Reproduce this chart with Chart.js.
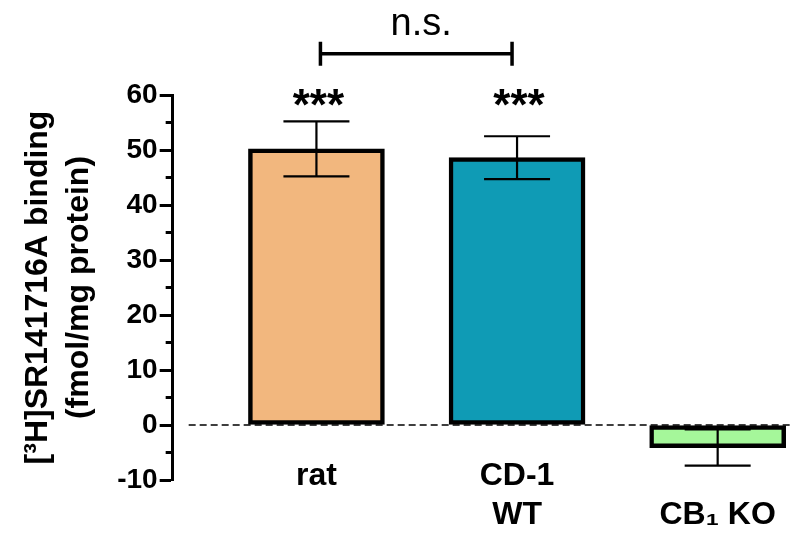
<!DOCTYPE html>
<html>
<head>
<meta charset="utf-8">
<script src="https://cdn.jsdelivr.net/npm/chart.js@4.4.1/dist/chart.umd.min.js"></script>
<style>
  html, body { margin: 0; padding: 0; background: #fff; }
  #wrap { width: 800px; height: 548px; }
</style>
</head>
<body>
<div id="wrap"><canvas id="c" width="800" height="548"></canvas></div>
<script>
// ---- data ----
const categories = [["rat"], ["CD-1", "WT"], ["", "CB\u2081 KO"]];
const means = [50.2, 48.6, -4.1];
const sems = [5.0, 3.9, 3.3];
const barColors = ["#F2B77E", "#0F9BB5", "#A5F79A"];
const starLabels = ["***", "***", ""];
const sigPair = [0, 1];
const sigText = "n.s.";
const yTicks = [-10, 0, 10, 20, 30, 40, 50, 60];

const FONT = "'Liberation Sans', Arial, Helvetica, sans-serif";

const points = means.map((v, i) => ({ x: i, y: v }));

const overlay = {
  id: 'overlay',
  beforeDatasetsDraw(chart) {
    const { ctx, scales: { x, y } } = chart;
    ctx.save();
    ctx.strokeStyle = '#000';
    ctx.lineWidth = 1.5;
    ctx.setLineDash([7, 4]);
    const y0 = y.getPixelForValue(0);
    ctx.beginPath();
    ctx.moveTo(x.left + 16, y0);
    ctx.lineTo(x.getPixelForValue(2) + 73, y0);
    ctx.stroke();
    ctx.restore();
  },
  afterDatasetsDraw(chart) {
    const { ctx, scales: { x, y } } = chart;
    ctx.save();
    ctx.strokeStyle = '#000';
    ctx.lineWidth = 2.2;
    means.forEach((m, i) => {
      const cx = x.getPixelForValue(i);
      const yt = y.getPixelForValue(m + sems[i]);
      const yb = y.getPixelForValue(m - sems[i]);
      ctx.beginPath();
      ctx.moveTo(cx, yt); ctx.lineTo(cx, yb);
      ctx.moveTo(cx - 33, yt); ctx.lineTo(cx + 33, yt);
      ctx.moveTo(cx - 33, yb); ctx.lineTo(cx + 33, yb);
      ctx.stroke();
    });
    ctx.fillStyle = '#000';
    ctx.font = "bold 44px " + FONT;
    ctx.textAlign = 'center';
    ctx.textBaseline = 'middle';
    starLabels.forEach((s, i) => {
      if (!s) return;
      ctx.fillText(s, x.getPixelForValue(i) + 2, y.getPixelForValue(60.8) + 17);
    });
    const xa = x.getPixelForValue(sigPair[0]) + 4;
    const xb = x.getPixelForValue(sigPair[1]) - 5;
    const yb = y.getPixelForValue(67.5);
    ctx.lineWidth = 3.5;
    ctx.beginPath();
    ctx.moveTo(xa, yb); ctx.lineTo(xb, yb);
    ctx.moveTo(xa, yb - 12); ctx.lineTo(xa, yb + 12);
    ctx.moveTo(xb, yb - 12); ctx.lineTo(xb, yb + 12);
    ctx.stroke();
    ctx.font = "38px " + FONT;
    ctx.textBaseline = 'alphabetic';
    ctx.fillText(sigText, (xa + xb) / 2 + 5, yb - 19);
    ctx.lineWidth = 3;
    for (let v = -5; v < 60; v += 10) {
      const py = y.getPixelForValue(v);
      ctx.beginPath();
      ctx.moveTo(x.left - 7, py); ctx.lineTo(x.left, py);
      ctx.stroke();
    }
    ctx.restore();
  }
};

new Chart(document.getElementById('c'), {
  type: 'bar',
  data: {
    datasets: [{
      data: points,
      backgroundColor: barColors,
      borderColor: '#000',
      borderWidth: 4.5,
      borderSkipped: false,
      barThickness: 136
    }]
  },
  options: {
    responsive: false,
    animation: false,
    devicePixelRatio: 1,
    layout: { padding: { top: 95, bottom: 68, right: 10, left: 17 } },
    plugins: { legend: { display: false }, tooltip: { enabled: false } },
    scales: {
      x: {
        type: 'linear',
        offset: false,
        position: { y: 0 },
        min: -0.7166,
        max: 2.356,
        afterBuildTicks(scale) { scale.ticks = categories.map((c, i) => ({ value: i })); },
        grid: { display: false, offset: false },
        border: { display: false },
        ticks: {
          callback: (v) => categories[v] || '',
          font: { family: FONT, size: 32, weight: 'bold', lineHeight: 1.23 },
          color: '#000',
          padding: 23,
          maxRotation: 0,
          autoSkip: false
        }
      },
      y: {
        min: -10,
        max: 60,
        afterBuildTicks(scale) { scale.ticks = yTicks.map(v => ({ value: v })); },
        grid: {
          drawOnChartArea: false,
          tickLength: 13,
          tickWidth: 3,
          tickColor: '#000'
        },
        border: { display: true, color: '#000', width: 3 },
        ticks: {
          font: { family: FONT, size: 28, weight: 'bold' },
          color: '#000',
          padding: 2
        },
        title: {
          display: true,
          text: ['[\u00B3H]SR141716A binding', '(fmol/mg protein)'],
          font: { family: FONT, size: 32, weight: 'bold', lineHeight: 1.3 },
          color: '#000',
          padding: { top: 0, bottom: 15 }
        }
      }
    }
  },
  plugins: [overlay]
});
</script>
</body>
</html>
